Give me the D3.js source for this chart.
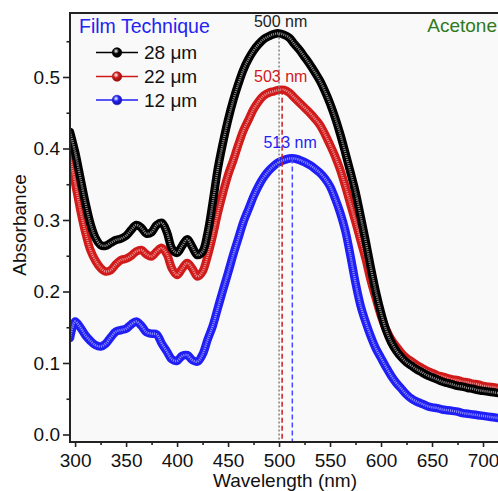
<!DOCTYPE html>
<html>
<head>
<meta charset="utf-8">
<script src="https://cdn.jsdelivr.net/npm/d3@7"></script>
<style>
  html, body { margin: 0; padding: 0; background: #ffffff; }
  svg { display: block; font-family: "Liberation Sans", Arial, sans-serif; }
</style>
</head>
<body>
<svg id="chart" width="498" height="491"></svg>
<script>
// Wavelength grid (nm)
const wavelengths = [
  295, 300, 305, 310, 315, 320, 325, 330, 335, 340, 345, 350, 355, 360, 365, 370, 375, 380, 385, 390,
  395, 400, 405, 410, 415, 420, 425, 430, 435, 440, 445, 450, 455, 460, 465, 470, 475, 480, 485, 490,
  495, 500, 505, 510, 515, 520, 525, 530, 535, 540, 545, 550, 555, 560, 565, 570, 575, 580, 585, 590,
  595, 600, 605, 610, 615, 620, 625, 630, 635, 640, 645, 650, 655, 660, 665, 670, 675, 680, 685, 690,
  695, 700, 705, 710, 715, 720
];

// Absorbance, 28 µm film
const abs28 = [
  0.423, 0.395, 0.360, 0.325, 0.295, 0.275, 0.265, 0.264, 0.268, 0.272, 0.274, 0.278, 0.286, 0.293, 0.289, 0.281, 0.283, 0.293, 0.296, 0.283,
  0.260, 0.254, 0.264, 0.273, 0.262, 0.251, 0.256, 0.282, 0.325, 0.372, 0.408, 0.440, 0.467, 0.490, 0.510, 0.525, 0.537, 0.546, 0.553, 0.557,
  0.560, 0.561, 0.559, 0.555, 0.546, 0.538, 0.528, 0.518, 0.507, 0.495, 0.480, 0.463, 0.443, 0.420, 0.394, 0.367, 0.339, 0.305, 0.270, 0.233,
  0.199, 0.170, 0.146, 0.129, 0.117, 0.108, 0.101, 0.096, 0.091, 0.087, 0.083, 0.080, 0.077, 0.074, 0.072, 0.070, 0.068, 0.067, 0.065, 0.064,
  0.062, 0.061, 0.060, 0.059, 0.058, 0.057
];

// Absorbance, 22 µm film
const abs22 = [
  0.387, 0.352, 0.315, 0.283, 0.258, 0.243, 0.233, 0.228, 0.230, 0.238, 0.244, 0.246, 0.250, 0.256, 0.258, 0.252, 0.249, 0.256, 0.261, 0.252,
  0.232, 0.223, 0.232, 0.240, 0.232, 0.221, 0.228, 0.250, 0.278, 0.310, 0.338, 0.363, 0.383, 0.405, 0.425, 0.440, 0.455, 0.466, 0.474, 0.478,
  0.480, 0.482, 0.482, 0.478, 0.471, 0.464, 0.457, 0.450, 0.442, 0.433, 0.420, 0.405, 0.389, 0.370, 0.347, 0.322, 0.297, 0.271, 0.245, 0.215,
  0.190, 0.166, 0.147, 0.133, 0.123, 0.114, 0.107, 0.102, 0.097, 0.093, 0.089, 0.086, 0.083, 0.081, 0.079, 0.077, 0.076, 0.074, 0.073, 0.071,
  0.070, 0.068, 0.067, 0.066, 0.065, 0.064
];

// Absorbance, 12 µm film
const abs12 = [
  0.135, 0.158, 0.150, 0.139, 0.131, 0.125, 0.123, 0.127, 0.136, 0.144, 0.146, 0.148, 0.154, 0.158, 0.152, 0.143, 0.141, 0.140, 0.127, 0.116,
  0.105, 0.103, 0.110, 0.111, 0.104, 0.102, 0.112, 0.133, 0.152, 0.177, 0.202, 0.226, 0.251, 0.274, 0.297, 0.315, 0.333, 0.348, 0.360, 0.369,
  0.376, 0.381, 0.384, 0.386, 0.386, 0.384, 0.381, 0.377, 0.372, 0.366, 0.358, 0.347, 0.330, 0.310, 0.285, 0.250, 0.212, 0.180, 0.157, 0.137,
  0.120, 0.107, 0.094, 0.082, 0.072, 0.064, 0.056, 0.050, 0.046, 0.043, 0.040, 0.038, 0.037, 0.035, 0.034, 0.033, 0.032, 0.030, 0.029, 0.028,
  0.027, 0.026, 0.025, 0.024, 0.023, 0.022
];

const seriesNames = ["28 \u03bcm", "22 \u03bcm", "12 \u03bcm"];
const seriesColors = ["#000000", "#d11a1a", "#1f1ff5"];
const peakWavelengths = [500, 503, 513];

const xMajorTicks = [300, 350, 400, 450, 500, 550, 600, 650, 700];
const xMinorTicks = [325, 375, 425, 475, 525, 575, 625, 675];
const yMajorTicks = [0.0, 0.1, 0.2, 0.3, 0.4, 0.5];
const yMinorTicks = [0.05, 0.15, 0.25, 0.35, 0.45, 0.55];

const svg = d3.select("#chart");
const plot = { left: 70, top: 13, bottom: 442, right: 503.4 };

const x = d3.scaleLinear().domain([295, 720]).range([plot.left, plot.right]);
const y = d3.scaleLinear().domain([-0.0105, 0.5895]).range([plot.bottom, plot.top]);

const defs = svg.append("defs");
defs.append("clipPath").attr("id", "plotClip")
  .append("rect")
  .attr("x", plot.left).attr("y", plot.top)
  .attr("width", plot.right - plot.left).attr("height", plot.bottom - plot.top);

// shaded ball markers for the legend
seriesColors.forEach((c, i) => {
  const g = defs.append("radialGradient").attr("id", "ball" + i)
    .attr("cx", "40%").attr("cy", "35%").attr("r", "65%");
  g.append("stop").attr("offset", "0%").attr("stop-color", "#ffffff");
  g.append("stop").attr("offset", "45%").attr("stop-color", c);
  g.append("stop").attr("offset", "100%").attr("stop-color", d3.color(c).darker(1.2));
});

// plot background
svg.append("rect")
  .attr("x", plot.left).attr("y", plot.top)
  .attr("width", plot.right - plot.left).attr("height", plot.bottom - plot.top)
  .attr("fill", "#f9f9f9");

const series = [abs28, abs22, abs12].map((vals, i) => ({
  name: seriesNames[i],
  color: seriesColors[i],
  peak: peakWavelengths[i],
  points: wavelengths.map((w, j) => ({ w, v: vals[j] }))
}));

const line = d3.line()
  .x(d => x(d.w))
  .y(d => y(d.v))
  .curve(d3.curveCatmullRom.alpha(0.5));

const curves = svg.append("g").attr("clip-path", "url(#plotClip)");

// draw back-to-front so the thick film sits on top
[2, 1, 0].forEach(i => {
  const s = series[i];
  curves.append("path")
    .datum(s.points)
    .attr("d", line)
    .attr("fill", "none")
    .attr("stroke", s.color)
    .attr("stroke-width", 8.5)
    .attr("stroke-linejoin", "round")
    .attr("stroke-linecap", "round");
  curves.append("path")
    .datum(s.points)
    .attr("d", line)
    .attr("fill", "none")
    .attr("stroke", "#ffffff")
    .attr("stroke-opacity", i === 0 ? 0.55 : 0.5)
    .attr("stroke-width", 2.4)
    .attr("stroke-dasharray", "1.1 1");
});

// peak markers: vertical guides and wavelength labels
const guideStyles = [
  { stroke: "#808080", dash: "2 2", dx: 1.6, dy: -6 },
  { stroke: "#d11a1a", dash: "5 3", dx: -1.4, dy: -8 },
  { stroke: "#4a4aff", dash: "5 3", dx: -2.2, dy: -10.5 }
];
series.forEach((s, i) => {
  const peakVal = d3.max(s.points, d => d.v);
  curves.append("line")
    .attr("x1", x(s.peak)).attr("x2", x(s.peak))
    .attr("y1", y(peakVal)).attr("y2", plot.bottom)
    .attr("stroke", guideStyles[i].stroke)
    .attr("stroke-width", 1.5)
    .attr("stroke-dasharray", guideStyles[i].dash);
  svg.append("text")
    .attr("x", x(s.peak) + guideStyles[i].dx)
    .attr("y", y(peakVal) + guideStyles[i].dy)
    .attr("text-anchor", "middle")
    .attr("font-size", 16)
    .attr("fill", i === 0 ? "#222" : s.color)
    .text(s.peak + " nm");
});

// axes
const xAxis = svg.append("g").attr("transform", `translate(0,${plot.bottom})`)
  .call(d3.axisBottom(x).tickValues(xMajorTicks).tickSize(5).tickPadding(7).tickFormat(d3.format("d")));
const xMinor = svg.append("g").attr("transform", `translate(0,${plot.bottom})`)
  .call(d3.axisBottom(x).tickValues(xMinorTicks).tickSize(3).tickFormat(""));
const yAxis = svg.append("g").attr("transform", `translate(${plot.left},0)`)
  .call(d3.axisLeft(y).tickValues(yMajorTicks).tickSize(7).tickPadding(3).tickFormat(d3.format(".1f")));
const yMinor = svg.append("g").attr("transform", `translate(${plot.left},0)`)
  .call(d3.axisLeft(y).tickValues(yMinorTicks).tickSize(3.5).tickFormat(""));

[xAxis, xMinor, yAxis, yMinor].forEach(g => {
  g.select(".domain").remove();
  g.selectAll(".tick line").attr("stroke", "#222").attr("stroke-width", 1.6);
  g.selectAll(".tick text").attr("font-size", 19).attr("fill", "#111")
    .attr("font-family", "'Liberation Sans', Arial, sans-serif");
});

// frame
svg.append("rect")
  .attr("x", plot.left).attr("y", plot.top)
  .attr("width", plot.right - plot.left + 10).attr("height", plot.bottom - plot.top)
  .attr("fill", "none").attr("stroke", "#222").attr("stroke-width", 2);

// axis titles
svg.append("text")
  .attr("x", 285).attr("y", 487)
  .attr("text-anchor", "middle").attr("font-size", 19).attr("fill", "#111")
  .text("Wavelength (nm)");
svg.append("text")
  .attr("transform", "translate(26,225) rotate(-90)")
  .attr("text-anchor", "middle").attr("font-size", 19).attr("fill", "#111")
  .text("Absorbance");

// legend
svg.append("text")
  .attr("x", 79).attr("y", 33)
  .attr("font-size", 19.5).attr("fill", "#2424f0")
  .text("Film Technique");
const legendRows = [52.5, 76.5, 100];
series.forEach((s, i) => {
  const g = svg.append("g").attr("transform", `translate(0,${legendRows[i]})`);
  g.append("line").attr("x1", 96).attr("x2", 138).attr("y1", 0).attr("y2", 0)
    .attr("stroke", s.color).attr("stroke-width", 1.6);
  g.append("circle").attr("cx", 117).attr("cy", 0).attr("r", 4.8)
    .attr("fill", `url(#ball${i})`).attr("stroke", d3.color(s.color).darker(0.5)).attr("stroke-width", 0.6);
  g.append("text").attr("x", 144).attr("y", 6.5)
    .attr("font-size", 19).attr("fill", "#111")
    .text(s.name);
});

svg.append("text")
  .attr("x", 497).attr("y", 32)
  .attr("text-anchor", "end").attr("font-size", 19).attr("fill", "#2e7a1c")
  .text("Acetone");
</script>
</body>
</html>
